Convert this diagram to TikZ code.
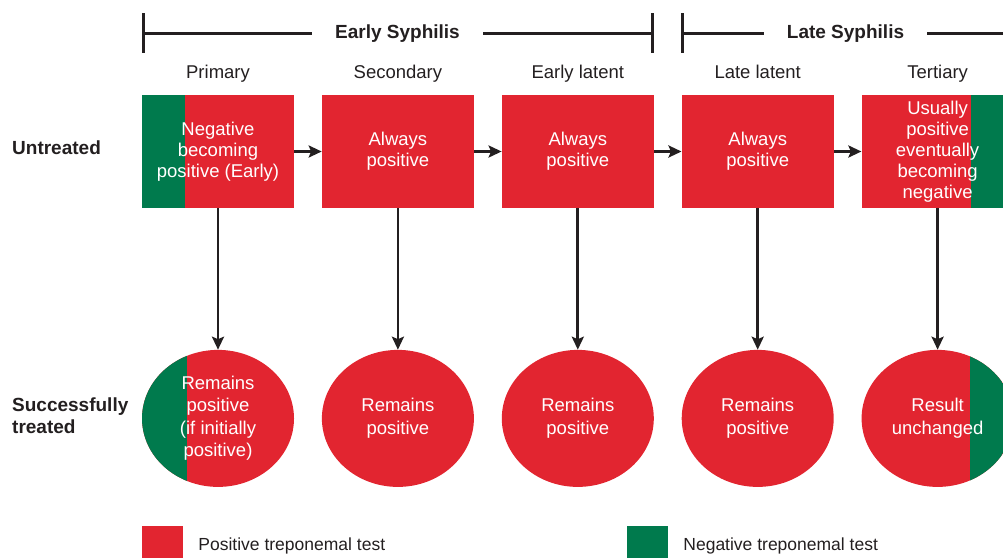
\documentclass[tikz,border=0pt]{standalone}
\usepackage{fontspec}
\setmainfont{Liberation Sans}
\usetikzlibrary{positioning,shapes.geometric,arrows.meta}
\definecolor{posred}{RGB}{226,37,48}
\definecolor{neggreen}{RGB}{0,122,77}
\definecolor{ink}{RGB}{35,31,32}
\tikzset{
  stage/.style={rectangle,fill=posred,text=white,minimum width=152pt,minimum height=113pt,
    inner sep=0pt,align=center,font=\fontsize{18.5}{21}\selectfont},
  result/.style={ellipse,fill=posred,text=white,minimum width=152pt,minimum height=137pt,
    inner sep=0pt,align=center,font=\fontsize{18.5}{22.5}\selectfont},
  negleft/.style={path picture={\fill[neggreen] (path picture bounding box.south west)
    rectangle ([xshift=#1]path picture bounding box.north west);}},
  negright/.style={path picture={\fill[neggreen] (path picture bounding box.south east)
    rectangle ([xshift=-#1]path picture bounding box.north east);}},
  flow/.style={-{Stealth[length=13pt,width=12pt,inset=2.5pt]},line width=2.8pt,ink},
  bracket/.style={line width=3pt,ink},
  phase/.style={text=ink,inner xsep=23pt,inner ysep=0pt,font=\bfseries\fontsize{19}{22}\selectfont},
  stagename/.style={text=ink,inner sep=0pt,font=\fontsize{18.5}{22}\selectfont},
  rowname/.style={text=ink,inner sep=0pt,align=left,font=\bfseries\fontsize{19}{22}\selectfont},
  key/.style={minimum size=41pt,inner sep=0pt},
  keytext/.style={text=ink,inner sep=0pt,font=\fontsize{17.5}{21}\selectfont}
}
\begin{document}
\begin{tikzpicture}[x=1pt,y=-1pt]
  \clip (0,0) rectangle (1003,557);
  % stages, untreated
  \node [stage,negleft=43pt] (prim) at (218,151.5) {Negative\\becoming\\positive (Early)};
  \node [stage,right=27.5pt of prim] (sec) {Always\\positive};
  \node [stage,right=27.5pt of sec] (elat) {Always\\positive};
  \node [stage,right=27.5pt of elat] (llat) {Always\\positive};
  \node [stage,negright=43pt,right=27.5pt of llat] (tert) {Usually\\positive\\eventually\\becoming\\negative};
  % successfully treated
  \node [result,negleft=45pt,below=141.5pt of prim] (primres) {Remains\\positive\\(if initially\\positive)};
  \node [result,below=141.5pt of sec] (secres) {Remains\\positive};
  \node [result,below=141.5pt of elat] (elatres) {Remains\\positive};
  \node [result,below=141.5pt of llat] (llatres) {Remains\\positive};
  \node [result,negright=44pt,below=141.5pt of tert] (tertres) {Result\\unchanged};
  \foreach \a/\b in {prim/sec,sec/elat,elat/llat,llat/tert}
    \draw [flow] (\a) -- (\b);
  \foreach \a in {prim,sec,elat,llat,tert}
    \draw [flow] (\a) -- (\a res);
  % stage names
  \foreach \a/\t in {prim/Primary,sec/Secondary,elat/Early latent,llat/Late latent,tert/Tertiary}
    \node [stagename,above=16pt of \a.north,anchor=base] (\a name) {\t};
  % phases
  \node [phase] (early) at (397.5,34) {Early Syphilis};
  \node [phase] (late) at (845.5,34) {Late Syphilis};
  \coordinate (eL) at (143,33);
  \coordinate (eR) at (652,33);
  \coordinate (lL) at (682,33);
  \coordinate (lR) at (1010,33);
  \draw [bracket] (eL) -- (eL -| early.west) (early.east |- eR) -- (eR);
  \draw [bracket] (lL) -- (lL -| late.west) (late.east |- lR) -- (lR);
  \foreach \c in {eL,eR,lL}
    \draw [bracket] ([yshift=20pt]\c) -- ([yshift=-20pt]\c);
  % rows
  \node [rowname,anchor=west] (untr) at (12,148) {Untreated};
  \node [rowname,anchor=west] (treat) at (12,416) {Successfully\\treated};
  % legend
  \node [key,fill=posred] (kpos) at (162.5,546) {};
  \node [keytext,right=15pt of kpos] (kpostext) {Positive treponemal test};
  \node [key,fill=neggreen] (kneg) at (647.5,546) {};
  \node [keytext,right=15pt of kneg] (knegtext) {Negative treponemal test};
\end{tikzpicture}
\end{document}
